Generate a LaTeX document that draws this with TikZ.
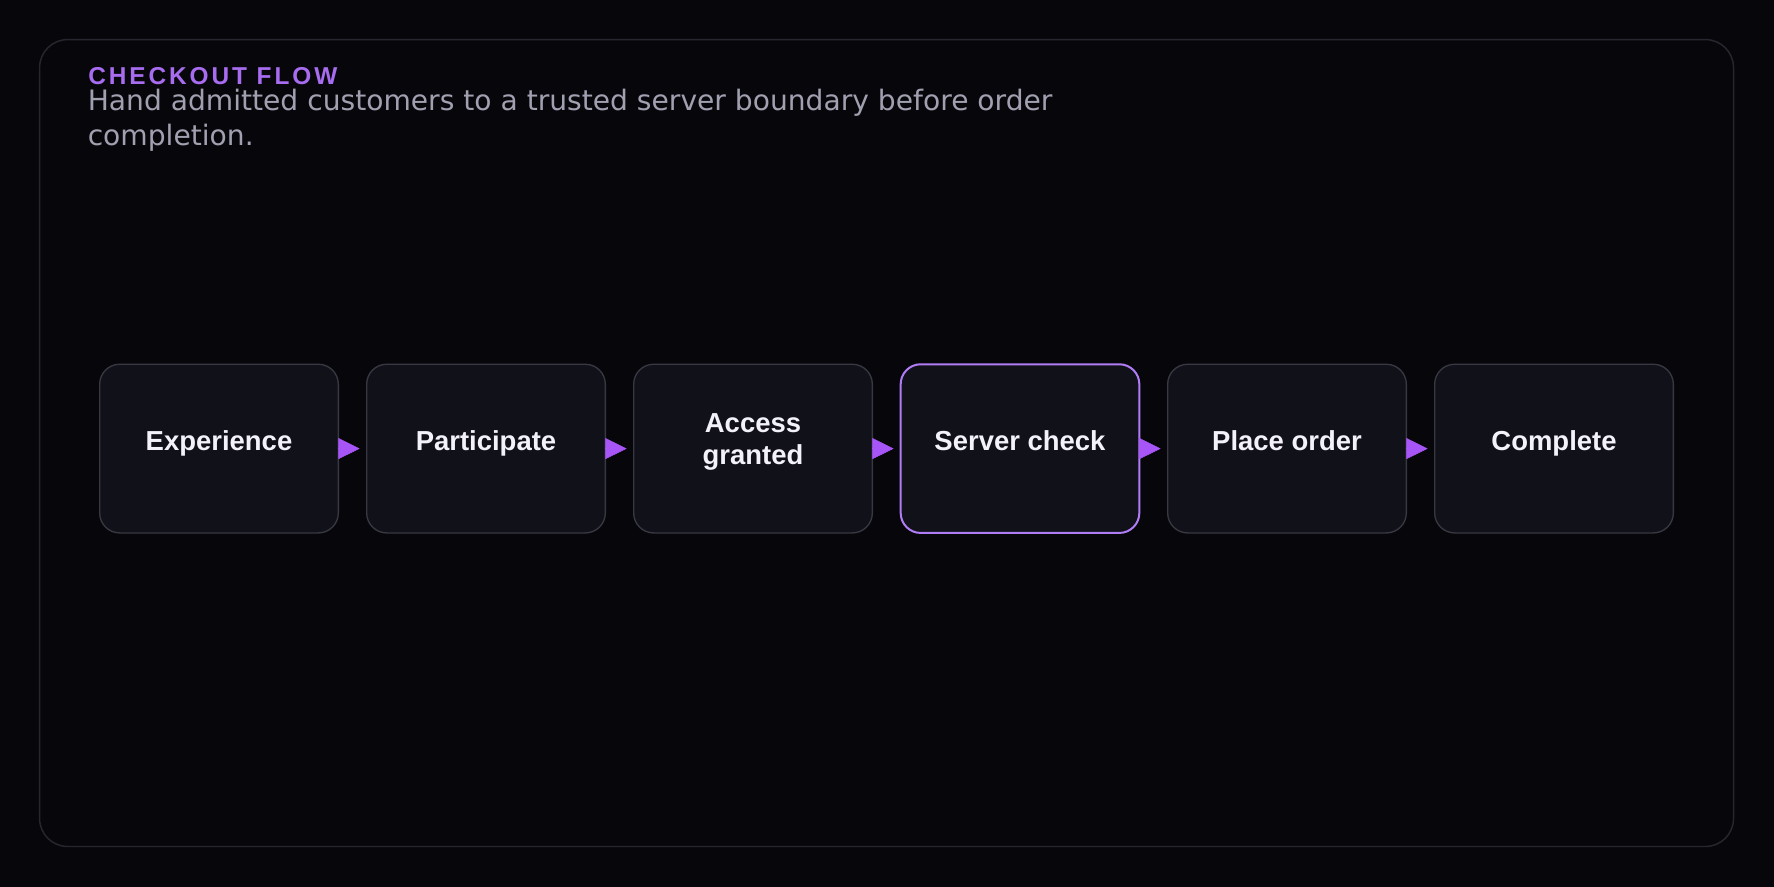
\documentclass[tikz,border=0pt]{standalone}
\usepackage{fontspec}
\setmainfont{Liberation Sans}
\newfontfamily\subfont{DejaVu Sans}
\newfontfamily\eyebrowfont[LetterSpace=12]{Liberation Sans}
\usetikzlibrary{arrows.meta,positioning}
\definecolor{PageBg}{RGB}{7,7,11}
\definecolor{PanelLine}{RGB}{38,38,46}
\definecolor{StepFill}{RGB}{17,17,26}
\definecolor{StepLine}{RGB}{56,56,66}
\definecolor{FlowPurple}{RGB}{168,85,247}
\definecolor{HiPurple}{RGB}{176,124,245}
\definecolor{TitlePurple}{RGB}{168,108,240}
\definecolor{SubGray}{RGB}{160,160,176}
\definecolor{LabelWhite}{RGB}{243,241,250}

\begin{document}
\begin{tikzpicture}[x=0.75pt, y=-0.75pt, node distance=21.25pt,
  stepbox/.style={draw=StepLine, fill=StepFill, line width=1pt,
      rounded corners=15pt, minimum width=179pt, minimum height=126.5pt,
      inner sep=0pt, outer sep=0pt, align=center, text=LabelWhite,
      font=\bfseries\fontsize{20.6}{24}\selectfont,
      text height=19.5pt, text depth=16.9pt},
  flow/.style={-{Triangle[length=16pt, width=15.75pt]}, FlowPurple,
      line width=0.4pt, shorten >=5.25pt}]
\useasboundingbox (0,0) rectangle (1774,887);
\fill[PageBg] (0,0) rectangle (1774,887);
\draw[PanelLine, line width=1.1pt, rounded corners=21pt]
  (39.6,39.6) rectangle (1733.5,846.5);
% heading
\node[anchor=base west, inner sep=0pt, text=TitlePurple,
      font=\eyebrowfont\bfseries\fontsize{18.3}{22}\selectfont] (title) at (88,84.8) {CHECKOUT FLOW};
\node[anchor=base west, inner sep=0pt, text=SubGray, align=left,
      font=\subfont\fontsize{21.1}{25.9}\selectfont] (sub) at (87.5,145.5)
  {Hand admitted customers to a trusted server boundary before order\\completion.};
% steps
\node[stepbox] (exp) at (219,448.6) {Experience};
\node[stepbox, right=of exp] (part) {Participate};
\node[stepbox, right=of part, text height=43.5pt, text depth=19.9pt] (access) {Access\\granted};
\node[stepbox, right=of access, draw=HiPurple, line width=1.5pt] (check) {Server check};
\node[stepbox, right=of check] (order) {Place order};
\node[stepbox, right=of order] (done) {Complete};
\draw[flow] (exp) -- (part);
\draw[flow] (part) -- (access);
\draw[flow] (access) -- (check);
\draw[flow] (check) -- (order);
\draw[flow] (order) -- (done);
\end{tikzpicture}
\end{document}
